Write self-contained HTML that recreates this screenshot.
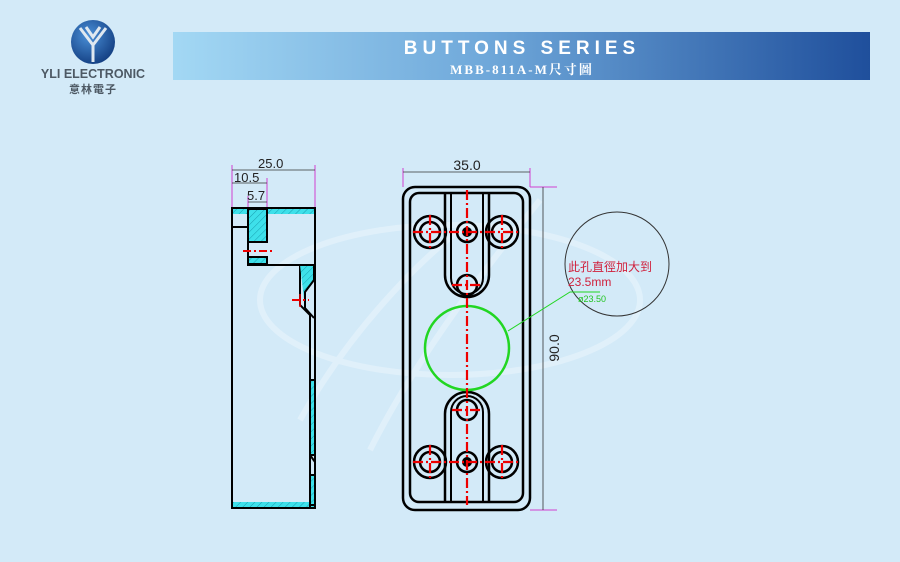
<!DOCTYPE html>
<html><head><meta charset="utf-8"><style>
body{margin:0;width:900px;height:562px;background:#d3eaf8;overflow:hidden;font-family:"Liberation Sans","Noto Sans CJK TC",sans-serif}
</style></head><body>
<svg width="900" height="562" viewBox="0 0 900 562" xmlns="http://www.w3.org/2000/svg" style="position:absolute;left:0;top:0">
<defs>
<linearGradient id="hb" x1="0" x2="1"><stop offset="0" stop-color="#a3d8f4"/><stop offset="0.45" stop-color="#6fa8da"/><stop offset="1" stop-color="#1f4f9c"/></linearGradient>
<radialGradient id="lg" cx="0.4" cy="0.35" r="0.7"><stop offset="0" stop-color="#4a90d8"/><stop offset="1" stop-color="#123d80"/></radialGradient>
<pattern id="ht" width="5" height="5" patternUnits="userSpaceOnUse" patternTransform="rotate(45)"><rect width="5" height="5" fill="#3ee0ea"/><line x1="0" y1="0" x2="0" y2="5" stroke="#1a9fb0" stroke-width="1"/></pattern>
</defs>
<g fill="none" stroke="#e4f2fb" stroke-width="6" opacity="0.8">
<ellipse cx="450" cy="300" rx="190" ry="75"/>
<path d="M370 450 C420 350 500 250 540 200"/>
<path d="M300 420 C350 330 420 260 460 230"/>
</g>
<circle cx="93" cy="42" r="22" fill="url(#lg)"/>
<path d="M80 28 L93 45 L106 28 M86 27 L93 37 L100 27 M93 45 L93 62" stroke="#dfe8f0" stroke-width="3" fill="none"/>
<text x="93" y="78" font-size="12.5" font-weight="bold" fill="#4d5964" text-anchor="middle">YLI ELECTRONIC</text>
<text x="93" y="93" font-size="11" font-weight="bold" fill="#4d5964" text-anchor="middle" letter-spacing="1">意林電子</text>
<rect x="173" y="32" width="697" height="48" fill="url(#hb)"/>
<text x="522" y="54" font-size="19" font-weight="bold" fill="#fff" text-anchor="middle" letter-spacing="5">BUTTONS SERIES</text>
<text x="522" y="74" font-size="13" font-weight="bold" fill="#fff" text-anchor="middle" letter-spacing="2" font-family="Liberation Serif,'Noto Serif CJK SC',serif">MBB-811A-M尺寸圖</text>

<g stroke="#d040d0" stroke-width="1">
<line x1="232" y1="165" x2="232" y2="208"/><line x1="315" y1="165" x2="315" y2="208"/>
<line x1="267" y1="178" x2="267" y2="208"/><line x1="248" y1="196" x2="248" y2="208"/>
</g>
<g stroke="#333" stroke-width="0.8"><line x1="232" y1="170" x2="315" y2="170"/><line x1="232" y1="183" x2="267" y2="183"/><line x1="248" y1="202" x2="267" y2="202"/></g>
<g font-size="13" fill="#222"><text x="258" y="168">25.0</text><text x="234" y="182">10.5</text><text x="247" y="200">5.7</text></g>
<g stroke="#000" stroke-width="2">
<path d="M232 208 H315 V508 H232 Z" fill="none"/>
<rect x="233" y="209" width="81" height="5" fill="url(#ht)" stroke="none"/>
<rect x="233" y="502" width="81" height="5" fill="url(#ht)" stroke="none"/>
<rect x="248" y="209" width="19" height="33" fill="url(#ht)"/>
<rect x="248" y="257" width="19" height="7" fill="url(#ht)"/>
<path d="M248 214 V265 H300 V305 L310 315 V508" fill="none"/>
<path d="M300 265 H314 V280 L305 292 V308" fill="url(#ht)"/>
<path d="M305 308 L314 318" fill="none"/>
<rect x="310" y="380" width="5" height="75" fill="url(#ht)"/>
<rect x="310" y="475" width="5" height="30" fill="url(#ht)"/>
<line x1="232" y1="227" x2="248" y2="227"/>
<line x1="310" y1="455" x2="315" y2="462"/>
</g>
<g stroke="#e00" stroke-width="2" stroke-dasharray="8,3,2,3"><line x1="243" y1="251" x2="272" y2="251"/><line x1="292" y1="300" x2="309" y2="300"/></g>
<line x1="300" y1="294" x2="300" y2="307" stroke="#e00" stroke-width="1.5"/>

<g stroke="#d040d0" stroke-width="1">
<line x1="403" y1="168" x2="403" y2="187"/><line x1="530" y1="168" x2="530" y2="187"/>
<line x1="530" y1="187" x2="557" y2="187"/><line x1="530" y1="510" x2="557" y2="510"/>
</g>
<line x1="403" y1="172" x2="530" y2="172" stroke="#333" stroke-width="0.8"/>
<line x1="543" y1="187" x2="543" y2="510" stroke="#333" stroke-width="0.8"/>
<text x="467" y="170" font-size="14" fill="#222" text-anchor="middle">35.0</text>
<text transform="translate(559,348) rotate(-90)" font-size="14" fill="#222" text-anchor="middle">90.0</text>

<g fill="none" stroke="#000" stroke-width="2.5">
<rect x="403" y="187" width="127" height="323" rx="12"/>
<rect x="410" y="193" width="113" height="309" rx="9"/>
<path d="M445 193 V275 A22 22 0 0 0 489 275 V193"/>
<path d="M451 193 V278 A16 16 0 0 0 483 278 V193" stroke-width="2"/>
<path d="M445 502 V414 A22 22 0 0 1 489 414 V502"/>
<path d="M451 502 V412 A16 16 0 0 1 483 412 V502" stroke-width="2"/>
<circle cx="430" cy="232" r="16"/><circle cx="430" cy="232" r="10"/>
<circle cx="502" cy="232" r="16"/><circle cx="502" cy="232" r="10"/>
<circle cx="467" cy="232" r="10"/>
<circle cx="467" cy="285" r="10"/>
<circle cx="467" cy="410" r="10"/>
<circle cx="430" cy="462" r="16"/><circle cx="430" cy="462" r="10"/>
<circle cx="502" cy="462" r="16"/><circle cx="502" cy="462" r="10"/>
<circle cx="467" cy="462" r="10"/>
</g>
<circle cx="467" cy="232" r="5" fill="#000"/><circle cx="467" cy="462" r="5" fill="#000"/>
<circle cx="467" cy="348" r="42" fill="none" stroke="#22d622" stroke-width="2.5"/>
<g stroke="#e00" stroke-width="2.2" stroke-dasharray="10,3,2,3">
<line x1="467" y1="190" x2="467" y2="505"/>
<line x1="413" y1="232" x2="520" y2="232"/><line x1="413" y1="462" x2="520" y2="462"/>
<line x1="430" y1="215" x2="430" y2="250"/><line x1="502" y1="215" x2="502" y2="250"/>
<line x1="430" y1="445" x2="430" y2="480"/><line x1="502" y1="445" x2="502" y2="480"/>
<line x1="452" y1="285" x2="482" y2="285"/><line x1="452" y1="410" x2="482" y2="410"/>
</g>
<circle cx="617" cy="264" r="52" fill="none" stroke="#333" stroke-width="1"/>
<polyline points="508,331 570,292 600,292" fill="none" stroke="#22d622" stroke-width="1"/>
<text x="568" y="271" font-size="12" fill="#d0203c">此孔直徑加大到</text>
<text x="568" y="286" font-size="12" fill="#d0203c">23.5mm</text>
<text x="578" y="302" font-size="9" fill="#22c422">ø23.50</text>
</svg>
</body></html>
